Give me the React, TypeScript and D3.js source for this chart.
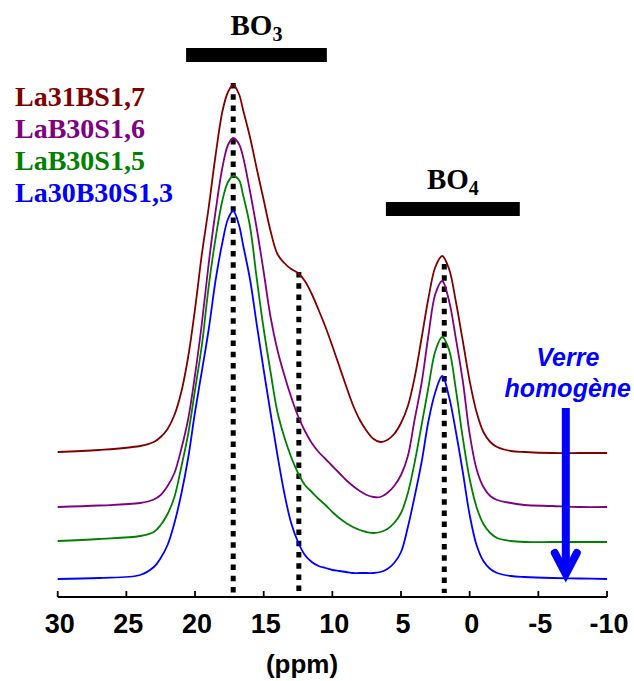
import React from "react";
import * as d3 from "d3";

// x axis ticks (ppm)
const xTicks = [30, 25, 20, 15, 10, 5, 0, -5, -10];

// chemical shift positions (ppm) at which the spectra were read
const ppmGrid = [
  30, 27, 24, 23, 22.5, 22, 21.5, 21, 20.5, 20,
  19.5, 19, 18.5, 18, 17.6, 17.22, 16.8, 16.5, 16, 15.5,
  15, 14.5, 14, 13.5, 13, 12.5, 12, 11.5, 11, 10.5,
  10, 9.5, 9, 8.5, 8, 7.5, 7, 6.5, 6, 5.5,
  5, 4.5, 4, 3.5, 3, 2.5, 2, 1.5, 1, 0.5,
  0, -0.5, -1, -1.5, -2, -3, -4, -6, -8, -10,
];

// displayed (vertically stacked) intensities, arbitrary units
const la31BS17 = [
  145, 147, 151, 155, 160, 168, 182, 205, 240, 288,
  343, 390, 442, 486, 505, 512, 503, 487, 460, 428,
  397, 366, 343, 334, 328, 324, 316, 303, 287, 270,
  251, 231, 211, 192, 177, 166, 158, 155, 157, 163,
  174, 191, 220, 259, 299, 330, 341, 328, 295, 256,
  216, 185, 165, 155, 150, 146, 145, 144, 144, 144,
];
const laB30S16 = [
  90, 91.5, 94, 97.5, 102, 111, 124, 148, 178, 222,
  274, 334, 386, 430, 452, 459, 453, 440, 406, 368,
  325, 280, 247, 222, 200, 181, 166, 154, 145, 138,
  131, 124, 117, 111, 106, 102, 100, 100, 104, 111,
  122, 141, 178, 214, 262, 303, 316, 296, 258, 216,
  163, 128, 110, 101, 97, 94, 92, 91, 90, 90,
];
const laB30S15 = [
  56, 58, 61, 65, 72, 83, 100, 130, 163, 207,
  252, 311, 359, 397, 415, 421, 417, 402, 371, 318,
  268, 225, 185, 160, 140, 124, 112, 105, 98, 92,
  85, 79, 74, 70, 67, 65, 64, 65, 68, 74,
  84, 104, 135, 172, 210, 246, 260, 247, 207, 159,
  118, 90, 73, 64, 59, 56, 55, 55, 55, 55,
];
const la30B30S13 = [
  18, 19, 22, 30, 39, 52, 74, 103, 139, 185,
  226, 268, 317, 355, 378, 386, 372, 352, 318, 272,
  227, 184, 142, 104, 74, 55, 42, 35, 31, 29,
  27, 26, 25, 24, 24, 24, 24, 25, 28, 34,
  45, 70, 101, 135, 176, 205, 221, 200, 165, 125,
  82, 52, 36, 28, 24, 21, 20, 19, 18.5, 18,
];

const seriesNames = ["La31BS1,7", "LaB30S1,6", "LaB30S1,5", "La30B30S1,3"];
const seriesColors = ["#800000", "#800080", "#008000", "#0000ff"];
const seriesValues = [la31BS17, laB30S16, laB30S15, la30B30S13];

// dotted reference lines: [ppm, top intensity]
const markerLines: [number, number][] = [[17.22, 514], [12.44, 325], [1.85, 333]];

// assignment bars: [label, subscript, ppm from, ppm to]
const bandBars: [string, string, number, number][] = [
  ["BO", "3", 20.65, 10.4],
  ["BO", "4", 6.1, -3.65],
];
const bandBarTops = [48, 202];

// annotation arrow position (ppm) and label
const arrowPpm = -7.0;
const arrowLabel = ["Verre", "homogène"];

export default function App() {
  const W = 634, H = 681;
  const x = d3.scaleLinear().domain([30, -10]).range([57.7, 607]);
  const y = d3.scaleLinear().domain([0, 537]).range([597, 60]);
  const line = d3
    .line<number>()
    .x((_, i) => x(ppmGrid[i]))
    .y((v) => y(v))
    .curve(d3.curveCatmullRom.alpha(0.5));

  const axisY = 597;
  const sans = "'Liberation Sans', Arial, sans-serif";
  const serif = "'Liberation Serif', 'Times New Roman', serif";

  return (
    <svg
      width={W}
      height={H}
      style={{ position: "absolute", left: 0, top: 0, background: "#fff" }}
    >
      {/* dotted lines */}
      {markerLines.map(([p, top], i) => (
        <line
          key={"m" + i}
          x1={x(p)}
          x2={x(p)}
          y1={y(top)}
          y2={y(4)}
          stroke="#000"
          strokeWidth={5}
          strokeDasharray="5.5 5.7"
        />
      ))}

      {/* spectra */}
      {seriesValues.map((d, i) => (
        <path
          key={"s" + i}
          d={line(d) || ""}
          fill="none"
          stroke={seriesColors[i]}
          strokeWidth={1.8}
        />
      ))}

      {/* axis */}
      <line x1={x(30)} x2={x(-10)} y1={axisY} y2={axisY} stroke="#000" strokeWidth={1.8} />
      {xTicks.map((t) => (
        <g key={"t" + t}>
          <line x1={x(t)} x2={x(t)} y1={axisY} y2={axisY - 6} stroke="#000" strokeWidth={1.8} />
          <text
            x={x(t) + 2}
            y={633}
            textAnchor="middle"
            fontFamily={sans}
            fontWeight="bold"
            fontSize={27}
            fill="#000"
          >
            {t}
          </text>
        </g>
      ))}
      <text
        x={302}
        y={673}
        textAnchor="middle"
        fontFamily={sans}
        fontWeight="bold"
        fontSize={26}
        fill="#000"
      >
        (ppm)
      </text>

      {/* band bars */}
      {bandBars.map(([lab, sub, a, b], i) => {
        const x0 = x(a), x1 = x(b);
        const cx = (x0 + x1) / 2;
        const top = bandBarTops[i];
        return (
          <g key={"b" + i}>
            <rect x={x0} y={top} width={x1 - x0} height={14} fill="#000" />
            <text
              x={cx}
              y={top - 13}
              textAnchor="middle"
              fontFamily={serif}
              fontWeight="bold"
              fontSize={29}
              fill="#000"
            >
              {lab}
              <tspan fontSize={20} dy={6}>{sub}</tspan>
            </text>
          </g>
        );
      })}

      {/* legend */}
      {seriesNames.map((n, i) => (
        <text
          key={"l" + i}
          x={15}
          y={106 + i * 32.1}
          fontFamily={serif}
          fontWeight="bold"
          fontSize={28}
          fill={seriesColors[i]}
        >
          {n}
        </text>
      ))}

      {/* arrow annotation */}
      <text
        x={x(arrowPpm) + 2}
        y={366}
        textAnchor="middle"
        fontFamily={sans}
        fontWeight="bold"
        fontStyle="italic"
        fontSize={25}
        fill="#0000ff"
      >
        {arrowLabel[0]}
      </text>
      <text
        x={x(arrowPpm) + 2}
        y={397}
        textAnchor="middle"
        fontFamily={sans}
        fontWeight="bold"
        fontStyle="italic"
        fontSize={25}
        fill="#0000ff"
      >
        {arrowLabel[1]}
      </text>
      <line
        x1={x(arrowPpm)}
        x2={x(arrowPpm)}
        y1={408}
        y2={574}
        stroke="#0000ff"
        strokeWidth={8}
      />
      <polyline
        points={`${x(arrowPpm) - 11},553 ${x(arrowPpm)},574 ${x(arrowPpm) + 11},553`}
        fill="none"
        stroke="#0000ff"
        strokeWidth={8}
        strokeLinecap="round"
        strokeLinejoin="miter"
      />
    </svg>
  );
}
